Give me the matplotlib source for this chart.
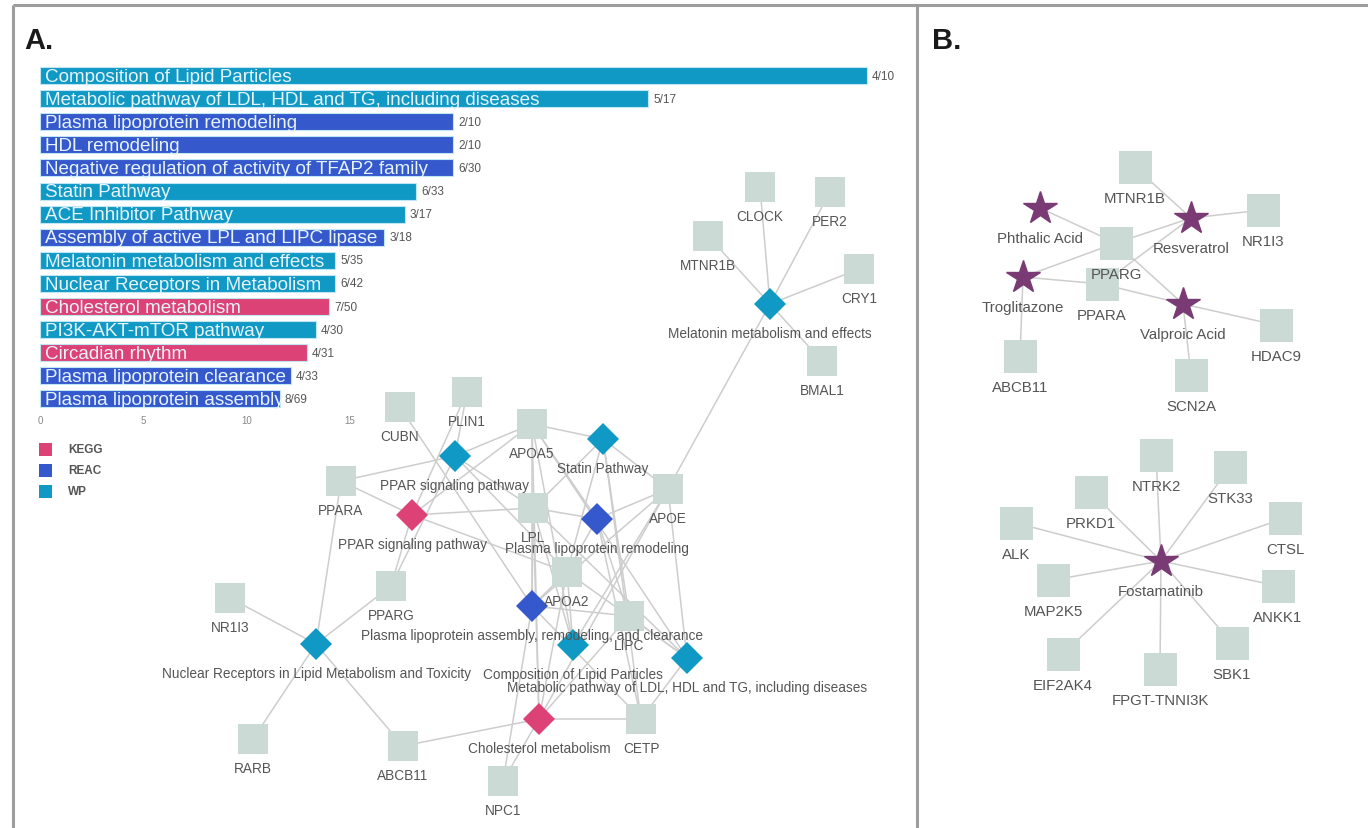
import matplotlib
matplotlib.use("Agg")
import matplotlib.pyplot as plt
from matplotlib.patches import Rectangle, Polygon
import numpy as np

plt.rcParams['font.family'] = ['Liberation Sans', 'DejaVu Sans']

# ---------------- enrichment bar chart data ----------------
terms = [
    "Composition of Lipid Particles",
    "Metabolic pathway of LDL, HDL and TG, including diseases",
    "Plasma lipoprotein remodeling",
    "HDL remodeling",
    "Negative regulation of activity of TFAP2 family",
    "Statin Pathway",
    "ACE Inhibitor Pathway",
    "Assembly of active LPL and LIPC lipase",
    "Melatonin metabolism and effects",
    "Nuclear Receptors in Metabolism",
    "Cholesterol metabolism",
    "PI3K-AKT-mTOR pathway",
    "Circadian rhythm",
    "Plasma lipoprotein clearance",
    "Plasma lipoprotein assembly",
]
term_source = ["WP", "WP", "REAC", "REAC", "REAC", "WP", "WP", "REAC",
               "WP", "WP", "KEGG", "WP", "KEGG", "REAC", "REAC"]
term_hits = [4, 5, 2, 2, 6, 6, 3, 3, 5, 6, 7, 4, 4, 4, 8]
term_size = [10, 17, 10, 10, 30, 33, 17, 18, 35, 42, 50, 30, 31, 33, 69]
x_ticks = [0, 5, 10, 15]

source_names = ["KEGG", "REAC", "WP"]
source_colors = {"KEGG": "#dc4276", "REAC": "#3558cc", "WP": "#1099c5"}

# ---------------- panel A network ----------------
a_genes = ["CLOCK", "PER2", "MTNR1B", "CRY1", "BMAL1", "PLIN1", "CUBN", "APOA5",
           "PPARA", "LPL", "APOE", "APOA2", "LIPC", "PPARG", "NR1I3", "CETP",
           "RARB", "ABCB11", "NPC1"]
a_gene_x = [760, 830, 708, 859, 822, 467, 400, 532,
            341, 533, 668, 567, 629, 391, 230, 641,
            253, 403, 503]
a_gene_y = [188, 193, 237, 270, 362, 393, 408, 425,
            482, 509, 490, 573, 617, 587, 599, 720,
            740, 747, 782]

a_paths = ["MEL", "PPAR_WP", "STATIN", "PPAR_KEGG", "REMOD", "ASSEMBLY",
           "NUCLEAR", "COMPOSITION", "METABOLIC", "CHOL"]
a_path_labels = ["Melatonin metabolism and effects", "PPAR signaling pathway",
                 "Statin Pathway", "PPAR signaling pathway",
                 "Plasma lipoprotein remodeling",
                 "Plasma lipoprotein assembly, remodeling, and clearance",
                 "Nuclear Receptors in Lipid Metabolism and Toxicity",
                 "Composition of Lipid Particles",
                 "Metabolic pathway of LDL, HDL and TG, including diseases",
                 "Cholesterol metabolism"]
a_path_source = ["WP", "WP", "WP", "KEGG", "REAC", "REAC", "WP", "WP", "WP", "KEGG"]
a_path_x = [770, 455, 603, 412, 597, 532, 316, 573, 687, 539]
a_path_y = [305, 457, 440, 516, 520, 607, 645, 646, 659, 720]

a_edges = {
    "MEL": ["CLOCK", "PER2", "MTNR1B", "CRY1", "BMAL1", "APOE"],
    "PPAR_WP": ["PLIN1", "APOA5", "PPARA", "PPARG", "LPL", "APOA2"],
    "PPAR_KEGG": ["PPARA", "PPARG", "LPL", "APOA2", "PLIN1", "APOA5"],
    "STATIN": ["APOA5", "LPL", "APOE", "LIPC", "CETP", "APOA2"],
    "REMOD": ["LPL", "APOE", "LIPC", "CETP", "APOA2", "APOA5"],
    "ASSEMBLY": ["CUBN", "LPL", "APOA5", "APOA2", "APOE", "LIPC", "CETP", "NPC1"],
    "NUCLEAR": ["PPARA", "PPARG", "NR1I3", "RARB", "ABCB11"],
    "COMPOSITION": ["APOA2", "APOA5", "APOE", "LPL"],
    "METABOLIC": ["APOA5", "LPL", "APOE", "LIPC", "CETP", "APOA2"],
    "CHOL": ["ABCB11", "CETP", "NPC1", "APOA2", "APOA5", "LIPC", "APOE", "LPL"],
}

# ---------------- panel B drug-gene networks ----------------
b_genes = ["MTNR1B", "NR1I3", "PPARG", "PPARA", "HDAC9", "ABCB11", "SCN2A",
           "NTRK2", "STK33", "PRKD1", "CTSL", "ALK", "MAP2K5", "ANKK1",
           "SBK1", "EIF2AK4", "FPGT-TNNI3K"]
b_gene_x = [1135, 1263, 1116, 1102, 1276, 1020, 1191,
            1156, 1230, 1091, 1285, 1016, 1053, 1278,
            1232, 1063, 1160]
b_gene_y = [168, 211, 244, 285, 326, 357, 376,
            456, 468, 493, 519, 524, 581, 587,
            644, 655, 670]

b_drugs = ["Phthalic Acid", "Resveratrol", "Troglitazone", "Valproic Acid", "Fostamatinib"]
b_drug_x = [1040, 1191, 1023, 1183, 1161]
b_drug_y = [209, 219, 278, 305, 562]

b_edges = {
    "Phthalic Acid": ["PPARG"],
    "Resveratrol": ["MTNR1B", "NR1I3", "PPARG", "PPARA"],
    "Troglitazone": ["PPARG", "PPARA", "ABCB11"],
    "Valproic Acid": ["PPARG", "PPARA", "HDAC9", "SCN2A"],
    "Fostamatinib": ["NTRK2", "STK33", "PRKD1", "CTSL", "ALK", "MAP2K5",
                     "ANKK1", "SBK1", "EIF2AK4", "FPGT-TNNI3K"],
}

# ---------------- styling ----------------
W, H = 1368, 829
gene_color = "#cbdad4"
drug_color = "#7a3b74"
edge_color = "#cdcdcd"
label_color = "#555555"
frame_color = "#9c9c9c"

fig = plt.figure(figsize=(W / 100, H / 100), dpi=100)
fig.patch.set_facecolor("white")

ax = fig.add_axes([0, 0, 1, 1])
ax.set_xlim(0, W)
ax.set_ylim(H, 0)
ax.axis("off")

# panel frames
ax.plot([13, W], [6, 6], color=frame_color, lw=2.2, solid_capstyle="butt")
ax.plot([13, 13], [6, H], color=frame_color, lw=2.2, solid_capstyle="butt")
ax.plot([917, 917], [6, H], color=frame_color, lw=2.2, solid_capstyle="butt")

ax.text(24, 49, "A.", fontsize=21, fontweight="bold", color="#1a1a1a", ha="left", va="baseline")
ax.text(932, 49, "B.", fontsize=21, fontweight="bold", color="#1a1a1a", ha="left", va="baseline")

# legend of sources
for i, src in enumerate(source_names):
    yy = 450 + 21 * i
    ax.add_patch(Rectangle((39, yy - 6.5), 13, 13, color=source_colors[src], lw=0))
    ax.text(68, yy, src, fontsize=8.5, fontweight="bold", color="#555555", va="center", ha="left")

# ---------- panel A network ----------
gpos_a = {g: (x, y) for g, x, y in zip(a_genes, a_gene_x, a_gene_y)}
ppos_a = {p: (x, y) for p, x, y in zip(a_paths, a_path_x, a_path_y)}

for p, genes in a_edges.items():
    px, py = ppos_a[p]
    for g in genes:
        gx, gy = gpos_a[g]
        ax.plot([px, gx], [py, gy], color=edge_color, lw=1.1, zorder=1)

half_a = 15
for g, (x, y) in gpos_a.items():
    ax.add_patch(Rectangle((x - half_a, y - half_a), 2 * half_a, 2 * half_a,
                           facecolor=gene_color, edgecolor="none", zorder=2))
    ax.text(x, y + 29, g, fontsize=9.8, color=label_color, ha="center", va="center", zorder=4)

dh = 16
for p, lab, src in zip(a_paths, a_path_labels, a_path_source):
    x, y = ppos_a[p]
    ax.add_patch(Polygon([(x, y - dh), (x + dh, y), (x, y + dh), (x - dh, y)],
                         closed=True, facecolor=source_colors[src], edgecolor="none", zorder=3))
    ax.text(x, y + 29, lab, fontsize=9.8, color=label_color, ha="center", va="center", zorder=4)

# ---------- panel B network ----------
gpos_b = {g: (x, y) for g, x, y in zip(b_genes, b_gene_x, b_gene_y)}
dpos_b = {d: (x, y) for d, x, y in zip(b_drugs, b_drug_x, b_drug_y)}

for d, genes in b_edges.items():
    dx, dy = dpos_b[d]
    for g in genes:
        gx, gy = gpos_b[g]
        ax.plot([dx, gx], [dy, gy], color=edge_color, lw=1.1, zorder=1)

half_b = 16.5
for g, (x, y) in gpos_b.items():
    ax.add_patch(Rectangle((x - half_b, y - half_b), 2 * half_b, 2 * half_b,
                           facecolor=gene_color, edgecolor="none", zorder=2))
    ax.text(x, y + 31, g, fontsize=10.8, color=label_color, ha="center", va="center", zorder=4)

for d, (x, y) in dpos_b.items():
    ax.plot(x, y, marker="*", ms=25, color=drug_color, mec=drug_color, zorder=3)
    ax.text(x, y + 30, d, fontsize=10.8, color=label_color, ha="center", va="center", zorder=4)

# ---------- bar chart ----------
ratios = 100.0 * np.array(term_hits) / np.array(term_size)
bx = fig.add_axes([40 / W, 1 - 411.5 / H, 868 / W, 346.5 / H])
bx.set_facecolor("none")
rows = np.arange(len(terms))
bars = bx.barh(rows, ratios, height=0.74,
               color=[source_colors[s] for s in term_source],
               edgecolor="#bfe6f3", linewidth=0.8)
bx.set_xlim(0, 42)
bx.set_ylim(len(terms) - 0.5, -0.5)
bx.set_xticks(x_ticks)
bx.set_xticklabels([str(t) for t in x_ticks])
bx.tick_params(axis="x", length=0, labelsize=7, colors="#888888", pad=3)
bx.set_yticks([])
for s in bx.spines.values():
    s.set_visible(False)

for i, (term, r, h, n, bar) in enumerate(zip(terms, ratios, term_hits, term_size, bars)):
    t = bx.text(0.25, i + 0.03, term, fontsize=13.6, color="#e6f4fa", va="center", ha="left")
    t.set_clip_path(bar)
    bx.text(r + 0.25, i, f"{h}/{n}", fontsize=8.5, color="#555555", va="center", ha="left")

fig.savefig("out.png", dpi=100, facecolor="white")
